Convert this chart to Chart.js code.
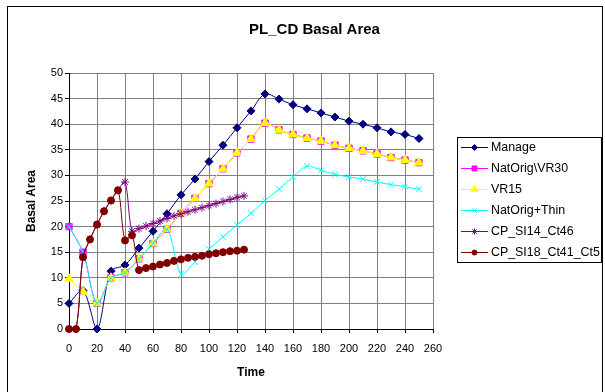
<!DOCTYPE html>
<html><head><meta charset="utf-8">
<script src="https://cdn.jsdelivr.net/npm/chart.js@4.4.0/dist/chart.umd.min.js"></script>
<style>html,body{margin:0;padding:0;background:#fff;}#wrap{width:605px;height:392px;}</style>
</head><body><div id="wrap"><canvas id="c" width="605" height="392"></canvas></div>
<script>
const chartTitle = 'PL_CD Basal Area';
const xTitle = 'Time';
const yTitle = 'Basal Area';
const xTickMin = 0, xTickMax = 260, xTickStep = 20;
const yTickMin = 0, yTickMax = 50, yTickStep = 5;

const timeMain = [0,10,20,30,40,50,60,70,80,90,100,110,120,130,140,150,160,170,180,190,200,210,220,230,240,250];
const manage    = [5,7.5,0,11.3,12.5,15.8,19.1,22.5,26.2,29.3,32.7,35.9,39.3,42.6,45.9,44.9,43.8,43.0,42.2,41.4,40.6,40.0,39.3,38.5,38.0,37.2];
const natOrigVR30 = [20,15,5,10,11,13.7,16.7,19.5,22.6,25.5,28.4,31.3,34.4,37.1,40.2,38.9,38.0,37.3,36.7,35.9,35.3,34.8,34.2,33.5,33.0,32.5];
const vr15      = [9.8,7.3,5,10,11,13.7,16.7,19.5,22.6,25.5,28.4,31.3,34.4,37.1,40.2,38.9,38.0,37.3,36.7,35.9,35.3,34.8,34.2,33.5,33.0,32.5];
const natOrigThin = [20,15,5,10,11,13.7,16.7,19.5,10.8,13.1,15.6,18.0,20.3,22.6,25.1,27.3,29.7,31.8,31.0,30.2,29.7,29.3,28.7,28.2,27.8,27.3];

const timeCP = [0,5,10,15,20,25,30,35,40,45,50,55,60,65,70,75,80,85,90,95,100,105,110,115,120,125];
const cpSI14 = [0,0,14,17.5,20.4,23,25.1,27.1,28.7,19.1,19.6,20.1,20.6,21.1,21.6,22.1,22.5,22.9,23.3,23.7,24.1,24.5,24.9,25.3,25.7,26.0];
const cpSI18 = [0,0,14,17.5,20.4,23,25.1,27.1,17.3,18.3,11.5,11.9,12.2,12.6,12.9,13.3,13.6,13.9,14.1,14.3,14.6,14.8,15.0,15.2,15.3,15.5];

const seriesNames = ['Manage','NatOrig\\VR30','VR15','NatOrig+Thin','CP_SI14_Ct46','CP_SI18_Ct41_Ct5'];
const seriesColors = ['#000080','#FF00FF','#FFFF00','#00FFFF','#800080','#800000'];
const seriesMarkers = ['rectRot','rect','triangle','crossRot','star','circle'];
const markerSizes = [4,4.5,5,4,4,3.5];

function pts(xs, ys){ return xs.map((x,i)=>({x:x, y:ys[i]})); }
const seriesData = [
  pts(timeMain, manage), pts(timeMain, natOrigVR30), pts(timeMain, vr15),
  pts(timeMain, natOrigThin), pts(timeCP, cpSI14), pts(timeCP, cpSI18)
];

const FONT = '"Liberation Sans", Arial, sans-serif';

const datasets = seriesData.map((d,i)=>({
  label: seriesNames[i],
  data: d,
  borderColor: seriesColors[i],
  backgroundColor: seriesColors[i],
  pointBackgroundColor: seriesColors[i],
  pointBorderColor: seriesColors[i],
  pointStyle: seriesMarkers[i],
  pointRadius: markerSizes[i],
  pointBorderWidth: 1,
  borderWidth: 1,
  tension: 0.33,
  fill: false,
  clip: false,
  order: seriesNames.length - i
}));

const frame = {
  id: 'frame',
  beforeDraw(chart){
    const ctx = chart.ctx;
    ctx.save();
    ctx.fillStyle = '#fff';
    ctx.fillRect(0,0,chart.width,chart.height);
    ctx.strokeStyle = '#000';
    ctx.lineWidth = 1;
    ctx.strokeRect(7.5, 6.5, 595, 420);
    ctx.restore();
  }
};

const excelLegend = {
  id: 'excelLegend',
  afterDraw(chart){
    const ctx = chart.ctx;
    ctx.save();
    ctx.strokeStyle = '#000';
    ctx.lineWidth = 1;
    ctx.strokeRect(457.5, 137.5, 144, 125);
    chart.data.datasets.forEach((ds,i)=>{
      const y = 147.5 + i*21;
      ctx.strokeStyle = ds.borderColor;
      ctx.lineWidth = 1;
      ctx.beginPath(); ctx.moveTo(461, y); ctx.lineTo(488, y); ctx.stroke();
      ctx.fillStyle = ds.pointBackgroundColor;
      ctx.strokeStyle = ds.pointBorderColor;
      Chart.helpers.drawPoint(ctx, {pointStyle: ds.pointStyle, radius: ds.pointRadius - 1, borderWidth: 1, rotation: 0}, 474.5, y);
      ctx.fillStyle = '#000';
      ctx.font = '12.4px ' + FONT;
      ctx.textBaseline = 'middle';
      ctx.textAlign = 'left';
      ctx.fillText(ds.label, 491, y);
    });
    ctx.restore();
  }
};

new Chart(document.getElementById('c'), {
  type: 'line',
  data: { datasets },
  plugins: [frame, excelLegend],
  options: {
    responsive: false,
    animation: false,
    layout: { padding: { left: 24, right: 0, top: 0, bottom: 0 } },
    plugins: {
      legend: { display: false },
      tooltip: { enabled: false },
      title: {
        display: true, text: chartTitle, color: '#000',
        font: { family: FONT, size: 15, weight: 'bold' },
        padding: { top: 21, bottom: 34 }
      }
    },
    scales: {
      x: {
        type: 'linear', min: xTickMin, max: xTickMax,
        ticks: { stepSize: xTickStep, color: '#000', font: { family: FONT, size: 11 }, padding: 9, maxRotation: 0 },
        grid: { color: '#808080', tickColor: '#000', tickLength: 4, drawTicks: true },
        border: { color: '#000', width: 1 },
        title: { display: true, text: xTitle, color: '#000', font: { family: FONT, size: 12, weight: 'bold' }, padding: { top: 0, bottom: 11.8 } },
        afterFit(s){ s.height = 63; }
      },
      y: {
        type: 'linear', min: yTickMin, max: yTickMax,
        ticks: { stepSize: yTickStep, color: '#000', font: { family: FONT, size: 11 }, padding: 2 },
        grid: { color: '#808080', tickColor: '#000', tickLength: 4, drawTicks: true },
        border: { color: '#000', width: 1 },
        title: { display: true, text: yTitle, color: '#000', font: { family: FONT, size: 12, weight: 'bold' }, padding: { top: 0, bottom: 0 } },
        afterFit(s){ s.width = 45; }
      },
      yR: {
        type: 'linear', position: 'right', display: true,
        grid: { display: false, drawTicks: false }, border: { display: false },
        ticks: { display: false },
        afterFit(s){ s.width = 172; }
      }
    }
  }
});
</script>
</body></html>
